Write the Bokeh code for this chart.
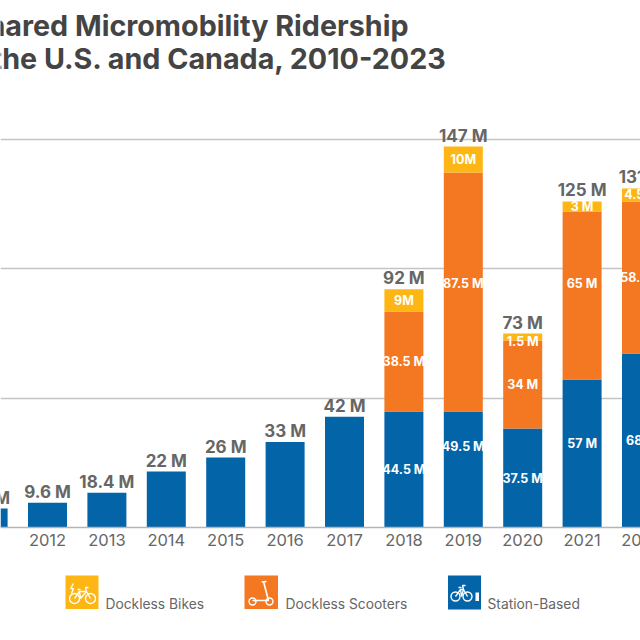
from bokeh.plotting import figure
from bokeh.models import Range1d, FixedTicker, Label
from bokeh.embed import file_html
from bokeh.resources import INLINE

years = [2011, 2012, 2013, 2014, 2015, 2016, 2017, 2018, 2019, 2020, 2021, 2022]
station = [7.3, 9.6, 13.4, 21.6, 27, 33, 42.8, 44.8, 44.8, 38.2, 57.1, 67.2]
scooters = [0, 0, 0, 0, 0, 0, 0, 38.6, 92.3, 34, 64.9, 58.7]
bikes = [0, 0, 0, 0, 0, 0, 0, 8.6, 10, 2.7, 3.9, 5]
total_labels = ["7.3 M", "9.6 M", "18.4 M", "22 M", "26 M", "33 M", "42 M", "92 M", "147 M", "73 M", "125 M", "131 M"]
station_labels = ["44.5 M", "49.5 M", "37.5 M", "57 M", "68 M"]
scooter_labels = ["38.5 M", "87.5 M", "34 M", "65 M", "58.5 M"]
bike_labels = ["9M", "10M", "1.5 M", "3 M", "4.5 M"]
stack_years = [2018, 2019, 2020, 2021, 2022]
title_lines = ["Shared Micromobility Ridership", "in the U.S. and Canada, 2010-2023"]
legend_names = ["Dockless Bikes", "Dockless Scooters", "Station-Based"]

BLUE, ORANGE, YELLOW = "#0364A8", "#F47721", "#FDB614"
GREY = "#666666"
FONT = "Inter"

# page pixels -> data
PX_YEAR = 59.4
PX_M = 2.59
def px(x): return 2012 + (x - 47) / PX_YEAR
def py(y): return (527 - y) / PX_M

p = figure(width=640, height=640, output_backend="svg", toolbar_location=None,
           x_range=Range1d(px(0), px(640)), y_range=Range1d(py(640), py(0)),
           min_border=0, outline_line_color=None, background_fill_color="white")
p.yaxis.visible = False
p.xgrid.visible = False
p.ygrid.ticker = FixedTicker(ticks=[50, 100, 150])
p.ygrid.grid_line_color = "#C4C4C4"
p.ygrid.grid_line_width = 1.3
p.xaxis.fixed_location = 0
p.xaxis.ticker = FixedTicker(ticks=years[1:-1])
p.xaxis.formatter.use_scientific = False
p.xaxis.major_label_overrides = {y: str(y) for y in years}
p.xaxis.major_tick_line_color = None
p.xaxis.minor_tick_line_color = None
p.xaxis.axis_line_color = "#B5B5B5"
p.xaxis.axis_line_width = 1.3
p.xaxis.major_label_text_color = GREY
p.xaxis.major_label_text_font = FONT
p.xaxis.major_label_text_font_size = "16.5px"
p.xaxis.major_label_standoff = 0

W = 39 / PX_YEAR
s_top = list(station)
o_top = [a + b for a, b in zip(station, scooters)]
y_top = [a + b for a, b in zip(o_top, bikes)]
p.vbar(x=years, width=W, bottom=0, top=s_top, fill_color=BLUE, line_color=None)
p.vbar(x=years, width=W, bottom=s_top, top=o_top, fill_color=ORANGE, line_color=None)
p.vbar(x=years, width=W, bottom=o_top, top=y_top, fill_color=YELLOW, line_color=None)

def label(x, y, text, size, color, bold=True, align="center", font=FONT, nudge=0):
    p.add_layout(Label(x=x, y=y, text=text, text_font=font, text_font_size=f"{size}px",
                       text_color=color, text_font_style="bold" if bold else "normal",
                       text_align=align, text_baseline="middle", y_offset=-nudge))

for yr, top, t in zip(years, y_top, total_labels):
    label(yr, top, t, 17, GREY, nudge=-11)

i0 = years.index(2018)
st_nudge = [0, -23, 0, -10, 0]
or_nudge = [0, -8, 0, -12, 0]
yl_nudge = [0, 0, 4, 0, 0]
for k, yr in enumerate(stack_years):
    i = i0 + k
    label(yr, s_top[i] / 2, station_labels[k], 12.5, "white", nudge=st_nudge[k])
    label(yr, (s_top[i] + o_top[i]) / 2, scooter_labels[k], 12.5, "white", nudge=or_nudge[k])
    label(yr, (o_top[i] + y_top[i]) / 2, bike_labels[k], 12.5, "white", nudge=yl_nudge[k])

# partly cut-off 2022 tick label
label(2022, py(539), "2022", 16.5, GREY, bold=False)

# title
label(px(408), py(25), title_lines[0], 28.7, "#444444", align="right")
label(px(447), py(58), title_lines[1], 28.7, "#444444", align="right")

# legend
def box(l, r, t, b, c):
    p.quad(left=px(l), right=px(r), top=py(t), bottom=py(b), fill_color=c, line_color=None)
def seg(pts, w=1.4):
    p.line([px(a) for a, _ in pts], [py(b) for _, b in pts], line_color="white", line_width=w)
def wheel(x, y, r):
    p.scatter([px(x)], [py(y)], size=2 * r, marker="circle", fill_color=None, line_color="white", line_width=1.4)

box(65, 98, 575, 608.5, YELLOW)
box(244, 277.5, 575, 608.5, ORANGE)
box(447.5, 480.5, 575, 609, BLUE)
label(px(105), py(603), legend_names[0], 13.8, GREY, bold=False, align="left")
label(px(285), py(603), legend_names[1], 13.8, GREY, bold=False, align="left")
label(px(487), py(603), legend_names[2], 13.8, GREY, bold=False, align="left")

def bike(x1, x2, y, r):
    wheel(x1, y, r); wheel(x2, y, r)
    seg([(x1, y), (x1 + 5, y - 7), (x2 - 4, y - 7), (x2, y)])
    seg([(x1 + 5, y - 7), (x1 + 6, y), (x2 - 4, y - 7)])
    seg([(x2 - 4, y - 7), (x2 - 5, y - 11), (x2 - 2, y - 11)])
    seg([(x1 + 3, y - 9), (x1 + 6, y - 9)])

bike(74, 90, 598, 5)
seg([(73, 583), (70, 588), (73, 588), (71, 593)], 1.3)
bike(455, 467, 596, 4.5)
p.quad(left=px(475), right=px(478.5), top=py(592), bottom=py(600.5), fill_color="white", line_color=None)

wheel(252, 601, 3.5); wheel(269, 601, 3.5)
seg([(252, 600), (268, 600), (263, 581)], 1.6)
seg([(261, 581.5), (266, 581)], 1.6)

open("out.html", "w").write(file_html(p, INLINE))
